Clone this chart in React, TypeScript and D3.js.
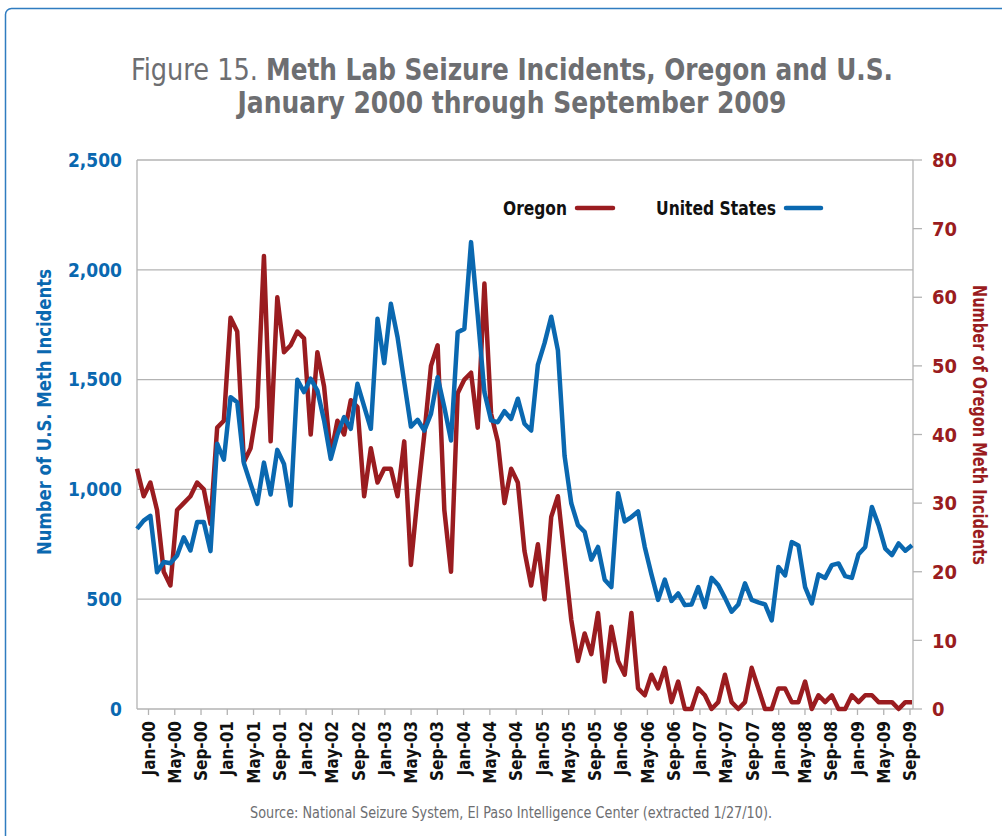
import React from 'react';
import * as d3 from 'd3';

// Monthly values, January 2000 - September 2009
const US_VALUES = [
  820, 858, 880, 623, 669, 664, 699, 782, 722, 851, 851, 719,
  1208, 1135, 1420, 1397, 1119, 1025, 934, 1122, 977, 1180, 1116, 927,
  1499, 1443, 1504, 1450, 1314, 1139, 1250, 1329, 1276, 1481, 1378, 1276,
  1777, 1575, 1845, 1693, 1488, 1286, 1317, 1268, 1344, 1511, 1374, 1223,
  1716, 1731, 2126, 1792, 1443, 1314, 1306, 1356, 1321, 1413, 1299, 1268,
  1567, 1666, 1786, 1633, 1152, 937, 837, 807, 680, 738, 589, 555,
  983, 854, 874, 900, 738, 613, 497, 589, 492, 526, 473, 476,
  555, 464, 597, 564, 506, 443, 476, 572, 497, 486, 476, 403,
  647, 608, 760, 745, 555, 481, 613, 597, 655, 663, 605, 597,
  705, 738, 920, 837, 730, 701, 754, 721, 746,
];

const OREGON_VALUES = [
  35, 31, 33, 29, 20, 18, 29, 30, 31, 33, 32, 27,
  41, 42, 57, 55, 36, 38, 44, 66, 39, 60, 52, 53,
  55, 54, 40, 52, 47, 37, 42, 40, 45, 44, 31, 38,
  33, 35, 35, 31, 39, 21, 31, 40, 50, 53, 29, 20,
  46, 48, 49, 41, 62, 43, 39, 30, 35, 33, 23, 18,
  24, 16, 28, 31, 22, 13, 7, 11, 8, 14, 4, 12,
  7, 5, 14, 3, 2, 5, 3, 6, 1, 4, 0, 0,
  3, 2, 0, 1, 5, 1, 0, 1, 6, 3, 0, 0,
  3, 3, 1, 1, 4, 0, 2, 1, 2, 0, 0, 2,
  1, 2, 2, 1, 1, 1, 0, 1, 1,
];

const TICK_LABELS = [
  'Jan-00', 'May-00', 'Sep-00', 'Jan-01', 'May-01', 'Sep-01', 'Jan-02', 'May-02',
  'Sep-02', 'Jan-03', 'May-03', 'Sep-03', 'Jan-04', 'May-04', 'Sep-04', 'Jan-05',
  'May-05', 'Sep-05', 'Jan-06', 'May-06', 'Sep-06', 'Jan-07', 'May-07', 'Sep-07',
  'Jan-08', 'May-08', 'Sep-08', 'Jan-09', 'May-09', 'Sep-09',
];

const US_TICKS = [0, 500, 1000, 1500, 2000, 2500];
const OREGON_TICKS = [0, 10, 20, 30, 40, 50, 60, 70, 80];

const SERIES_NAMES = ['Oregon', 'United States'];

const BLUE = '#0a68b0';
const RED = '#9a1c20';
const GRAY_TEXT = '#6d6e71';
const GRID = '#b3b3b3';
const FONT = "'Liberation Sans Narrow', 'DejaVu Sans Condensed', 'Arial Narrow', sans-serif";

const LEFT = 137;
const RIGHT = 913;
const TOP = 160;
const BOTTOM = 709;

export default function App() {
  const n = US_VALUES.length;
  const x = d3.scaleLinear().domain([0, n - 1]).range([LEFT, RIGHT - 1]);
  const xTick = d3.scaleLinear().domain([0, (TICK_LABELS.length - 1) * 4]).range([148.5, 910]);
  const yUS = d3.scaleLinear().domain([0, 2500]).range([BOTTOM, TOP]);
  const yOR = d3.scaleLinear().domain([0, 80]).range([BOTTOM, TOP]);

  const usLine = d3.line<number>().x((_, i) => x(i)).y((d) => yUS(d)).curve(d3.curveLinear);
  const orLine = d3.line<number>().x((_, i) => x(i)).y((d) => yOR(d)).curve(d3.curveLinear);

  return (
    <svg
      width={1002}
      height={836}
      style={{ position: 'absolute', left: 0, top: 0, background: '#fff', display: 'block' }}
      fontFamily={FONT}
    >
      <rect x={5.5} y={8.5} width={1100} height={900} rx={6} fill="none" stroke="#2f7cc0" strokeWidth={1.5} />

      {/* Title */}
      <text x={131} y={80} textAnchor="start" fill={GRAY_TEXT} fontSize={31} textLength={127} lengthAdjust="spacingAndGlyphs">
        Figure 15.
      </text>
      <text x={266} y={80} textAnchor="start" fill={GRAY_TEXT} fontSize={31} fontWeight="bold" textLength={627} lengthAdjust="spacingAndGlyphs">
        Meth Lab Seizure Incidents, Oregon and U.S.
      </text>
      <text x={512} y={113} textAnchor="middle" fill={GRAY_TEXT} fontSize={31} fontWeight="bold" textLength={549} lengthAdjust="spacingAndGlyphs">
        January 2000 through September 2009
      </text>

      {/* Gridlines */}
      {US_TICKS.map((t) => (
        <line key={'g' + t} x1={LEFT} x2={RIGHT} y1={yUS(t)} y2={yUS(t)} stroke={GRID} strokeWidth={1.3} />
      ))}
      <line x1={LEFT} x2={LEFT} y1={TOP} y2={BOTTOM} stroke={GRID} strokeWidth={1.3} />
      <line x1={RIGHT} x2={RIGHT} y1={TOP} y2={BOTTOM} stroke={GRID} strokeWidth={1.3} />

      {/* Right axis ticks */}
      {OREGON_TICKS.map((t) => (
        <line key={'rt' + t} x1={RIGHT} x2={RIGHT + 9} y1={yOR(t)} y2={yOR(t)} stroke={GRID} strokeWidth={1.3} />
      ))}

      {/* Bottom ticks */}
      {TICK_LABELS.map((lab, k) => (
        <line key={'bt' + lab} x1={xTick(k * 4)} x2={xTick(k * 4)} y1={BOTTOM} y2={BOTTOM + 6} stroke={GRID} strokeWidth={1.3} />
      ))}

      {/* Left axis labels */}
      {US_TICKS.map((t) => (
        <text key={'ll' + t} x={122} y={yUS(t)} dy="0.36em" textAnchor="end" fill={BLUE} fontWeight="bold" fontSize={19}>
          {d3.format(',')(t)}
        </text>
      ))}
      {/* Right axis labels */}
      {OREGON_TICKS.map((t) => (
        <text key={'rl' + t} x={932} y={yOR(t)} dy="0.36em" textAnchor="start" fill={RED} fontWeight="bold" fontSize={20}>
          {t}
        </text>
      ))}

      {/* Axis titles */}
      <text
        transform={`translate(44, 412) rotate(-90)`}
        textAnchor="middle"
        fill={BLUE}
        fontWeight="bold"
        fontSize={19}
        dy="0.36em"
        textLength={286}
        lengthAdjust="spacingAndGlyphs"
      >
        Number of U.S. Meth Incidents
      </text>
      <text
        transform={`translate(980, 425) rotate(90)`}
        textAnchor="middle"
        fill={RED}
        fontWeight="bold"
        fontSize={19}
        dy="0.36em"
        textLength={280}
        lengthAdjust="spacingAndGlyphs"
      >
        Number of Oregon Meth Incidents
      </text>

      {/* X labels */}
      {TICK_LABELS.map((lab, k) => (
        <text
          key={'xl' + lab}
          transform={`translate(${xTick(k * 4)}, 721) rotate(-90)`}
          textAnchor="end"
          dy="0.36em"
          fontWeight="bold"
          fontSize={17}
          fill="#111"
        >
          {lab}
        </text>
      ))}

      {/* Series */}
      <path d={orLine(OREGON_VALUES) || ''} fill="none" stroke={RED} strokeWidth={4.5} strokeLinejoin="round" />
      <path d={usLine(US_VALUES) || ''} fill="none" stroke={BLUE} strokeWidth={4.5} strokeLinejoin="round" />

      {/* Legend */}
      <text x={567} y={208} dy="0.36em" textAnchor="end" fontWeight="bold" fontSize={20} fill="#111" textLength={64} lengthAdjust="spacingAndGlyphs">
        {SERIES_NAMES[0]}
      </text>
      <line x1={577} x2={613} y1={208} y2={208} stroke={RED} strokeWidth={4.5} strokeLinecap="round" />
      <text x={776} y={208} dy="0.36em" textAnchor="end" fontWeight="bold" fontSize={20} fill="#111" textLength={120} lengthAdjust="spacingAndGlyphs">
        {SERIES_NAMES[1]}
      </text>
      <line x1={786} x2={821} y1={208} y2={208} stroke={BLUE} strokeWidth={4.5} strokeLinecap="round" />

      {/* Source */}
      <text x={511} y={818} textAnchor="middle" fill={GRAY_TEXT} fontSize={16} textLength={522} lengthAdjust="spacingAndGlyphs">
        Source: National Seizure System, El Paso Intelligence Center (extracted 1/27/10).
      </text>
    </svg>
  );
}
